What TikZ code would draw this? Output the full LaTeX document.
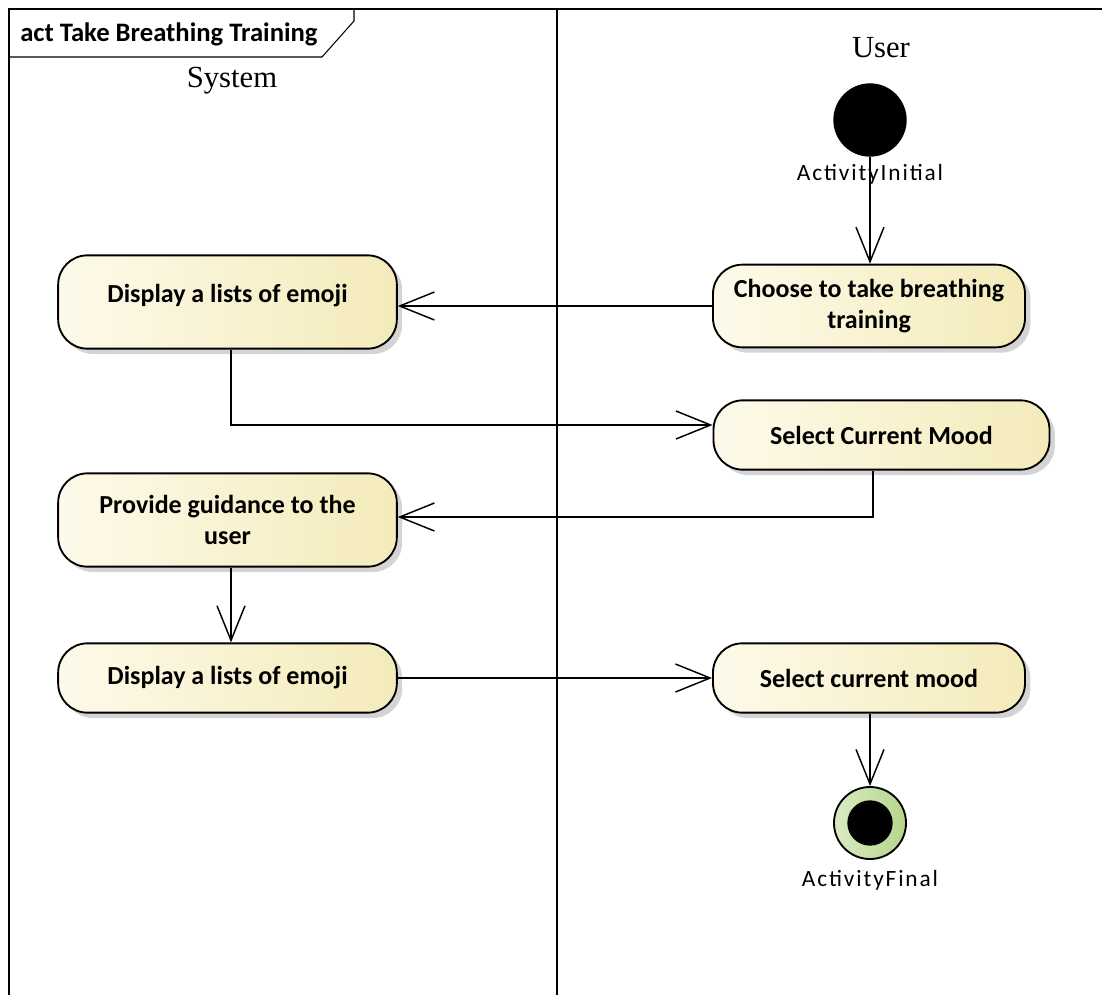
\documentclass[tikz,border=0pt]{standalone}
\usepackage{fontspec}
\setmainfont{Liberation Serif}
\newfontfamily\uifont{Carlito}
\newfontfamily\uilabelfont[LetterSpace=8]{Carlito}
\usetikzlibrary{arrows.meta,shadows,calc}

\definecolor{actlight}{HTML}{FDFAEA}
\definecolor{actdark}{HTML}{F4EBBA}
\definecolor{finlight}{HTML}{D9EBC2}
\definecolor{findark}{HTML}{B6D58C}
\definecolor{shadowgray}{HTML}{D4D4D4}

\begin{document}
\begin{tikzpicture}[x=0.75pt,y=-0.75pt,
  action/.style={draw=black, line width=1.4pt, rounded corners=22pt,
    left color=actlight, right color=actdark,
    drop shadow={shadow xshift=4pt, shadow yshift=-4pt, fill=shadowgray, opacity=1},
    font=\uifont\bfseries\fontsize{19.5}{23.5}\selectfont, align=center, inner sep=0pt},
  flow/.style={line width=1.1pt, -{Straight Barb[length=26pt,width=21pt,line width=1.1pt]}},
  lane/.style={line width=2pt},
  caption/.style={font=\uilabelfont\fontsize{17.5}{20}\selectfont, inner sep=0pt},
  lanetitle/.style={font=\fontsize{23}{27}\selectfont, inner sep=0pt}
]
\useasboundingbox (0,0) rectangle (1102,995);
\clip (0,0) rectangle (1102,995);

% diagram frame and swimlane divider
\draw[lane] (9,1010) -- (9,9) -- (1120,9);
\draw[lane] (557,9) -- (557,1010);

% frame title tab
\draw[line width=0.8pt] (9,57) -- (322,57) -- (354,21) -- (354,9);
\node[font=\uifont\bfseries\fontsize{20}{24}\selectfont, anchor=base west, inner sep=0pt] (title) at (20,42) {act Take Breathing Training};

% lane headings
\node[lanetitle] (system) at (232,81) {System};
\node[lanetitle] (user) at (881,48) {User};

% initial node
\node[circle, fill=black, minimum size=55pt, inner sep=0pt] (init) at (870,120) {};
\node[caption] (initlbl) at (870,174) {ActivityInitial};

% actions
\node[action, minimum width=234pt, minimum height=62pt] (choose) at (869,306) {Choose to take breathing\\training};
\node[action, minimum width=254pt, minimum height=70pt, text depth=13pt] (disp1) at (227.5,302) {Display a lists of emoji};
\node[action, minimum width=252pt, minimum height=52pt] (scm) at (881.5,435) {Select Current Mood};
\node[action, minimum width=254pt, minimum height=70pt] (prov) at (227.5,520) {Provide guidance to the\\user};
\node[action, minimum width=254pt, minimum height=52pt] (disp2) at (227.5,678) {Display a lists of emoji};
\node[action, minimum width=234pt, minimum height=52pt] (scm2) at (869,678) {Select current mood};

% final node
\node[circle, draw=black, line width=1.4pt, left color=finlight, right color=findark,
      minimum size=54pt, inner sep=0pt] (final) at (870,823) {};
\node[circle, fill=black, minimum size=34pt, inner sep=0pt] (finaldot) at (final) {};
\node[caption] (finallbl) at (870,880) {ActivityFinal};

% bend points of the routed flows
\coordinate (b1) at (231,425);
\coordinate (b2) at (873,517);
\coordinate (b3) at (231,0);

% control flows
\draw[flow] (init.south) -- (init.south |- choose.north);
\draw[flow] (choose.west) -- (choose.west -| disp1.east);
\draw[flow] (disp1.south -| b1) -- (b1) -- (b1 -| scm.west);
\draw[flow] (scm.south -| b2) -- (b2) -- (b2 -| prov.east);
\draw[flow] (prov.south -| b3) -- (disp2.north -| b3);
\draw[flow] (disp2.east) -- (scm2.west);
\draw[flow] (scm2.south -| final) -- (final.north);
\end{tikzpicture}
\end{document}
